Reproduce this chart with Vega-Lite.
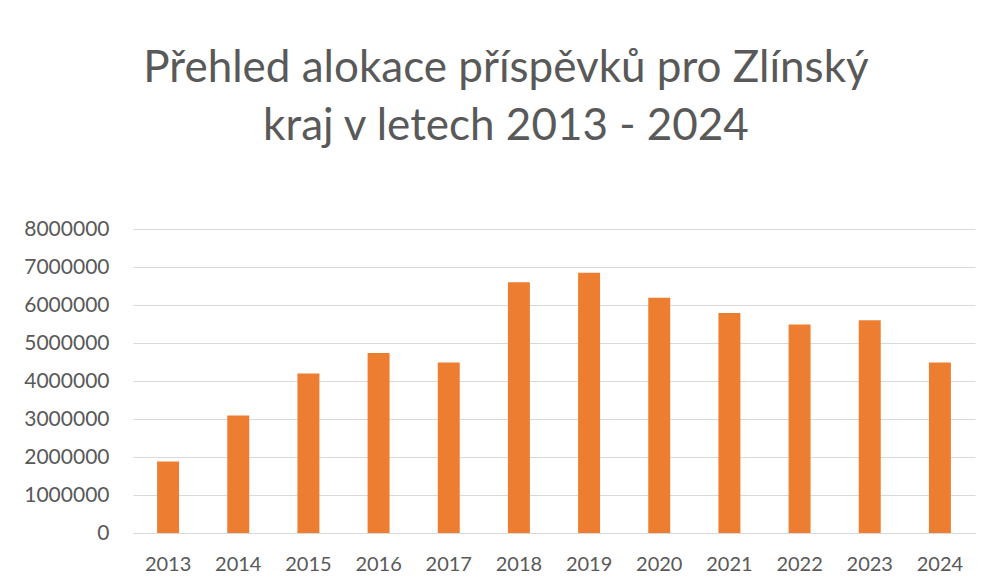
{
  "$schema": "https://vega.github.io/schema/vega-lite/v6.json",
  "width": 842,
  "height": 304,
  "autosize": {"type": "none"},
  "padding": {"left": 133, "top": 229, "right": 17, "bottom": 55},
  "background": "white",
  "title": {
    "text": ["Přehled alokace příspěvků pro Zlínský", "kraj v letech 2013 - 2024"],
    "anchor": "middle",
    "dx": -48,
    "offset": 69,
    "font": "Lato",
    "fontSize": 44,
    "fontWeight": "normal",
    "color": "#595959",
    "lineHeight": 58
  },
  "data": {
    "values": [
      {"rok": "2013", "castka": 1880000},
      {"rok": "2014", "castka": 3090000},
      {"rok": "2015", "castka": 4200000},
      {"rok": "2016", "castka": 4740000},
      {"rok": "2017", "castka": 4490000},
      {"rok": "2018", "castka": 6600000},
      {"rok": "2019", "castka": 6850000},
      {"rok": "2020", "castka": 6190000},
      {"rok": "2021", "castka": 5790000},
      {"rok": "2022", "castka": 5490000},
      {"rok": "2023", "castka": 5600000},
      {"rok": "2024", "castka": 4490000}
    ]
  },
  "mark": {"type": "bar", "color": "#ED7D31"},
  "encoding": {
    "x": {
      "field": "rok",
      "type": "ordinal",
      "scale": {"paddingInner": 0.687, "paddingOuter": 0.3435},
      "axis": {
        "title": null,
        "labelAngle": 0,
        "ticks": false,
        "domainColor": "#d9d9d9",
        "domainWidth": 1,
        "labelFont": "Lato",
        "labelFontSize": 20,
        "labelColor": "#595959",
        "labelPadding": 21
      }
    },
    "y": {
      "field": "castka",
      "type": "quantitative",
      "scale": {"domain": [0, 8000000], "nice": false},
      "axis": {
        "title": null,
        "values": [0, 1000000, 2000000, 3000000, 4000000, 5000000, 6000000, 7000000, 8000000],
        "format": "d",
        "domain": false,
        "ticks": false,
        "gridColor": "#d9d9d9",
        "gridWidth": 1,
        "labelFont": "Lato",
        "labelFontSize": 21,
        "labelColor": "#595959",
        "labelPadding": 24
      }
    }
  },
  "config": {"view": {"stroke": null}}
}
